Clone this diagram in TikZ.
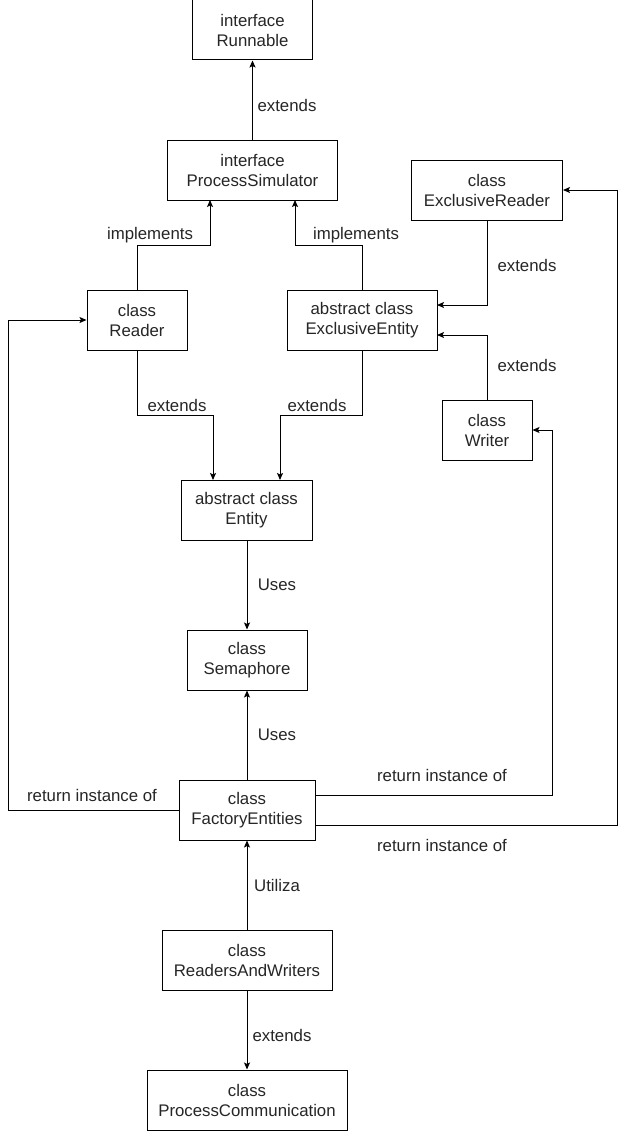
\documentclass[tikz,border=0pt]{standalone}
\usepackage{fontspec}
\setmainfont{Liberation Sans}
\usetikzlibrary{arrows.meta}
\begin{document}
\begin{tikzpicture}[x=1pt,y=-1pt,
  box/.style={draw,line width=1pt,align=center,inner sep=0pt,
    font=\fontsize{16.8}{20}\selectfont,text=black!85},
  lbl/.style={font=\fontsize{16.8}{20}\selectfont,text=black!85,inner sep=0pt},
  link/.style={line width=1pt,-{Stealth[length=7pt,width=6pt,inset=1.5pt]}}]
\useasboundingbox[fill=white] (0,0) rectangle (626,1132);

% classes and interfaces
\node[box,minimum width=120pt,minimum height=60pt] (run) at (252.5,30) {interface\\Runnable};
\node[box,minimum width=170pt,minimum height=60pt] (ps) at (252.5,170) {interface\\ProcessSimulator};
\node[box,minimum width=151pt,minimum height=60pt] (er) at (487,190) {class\\ExclusiveReader};
\node[box,minimum width=100pt,minimum height=60pt] (rd) at (137,320) {class\\Reader};
\node[box,minimum width=150pt,minimum height=60pt] (ee) at (362,320) {abstract class\\ExclusiveEntity};
\node[box,minimum width=90pt,minimum height=60pt] (wr) at (487,430) {class\\Writer};
\node[box,minimum width=131pt,minimum height=60pt] (en) at (246.5,510) {abstract class\\Entity};
\node[box,minimum width=120pt,minimum height=60pt] (sem) at (247,660) {class\\Semaphore};
\node[box,minimum width=136pt,minimum height=60pt] (fac) at (247,810) {class\\FactoryEntities};
\node[box,minimum width=170pt,minimum height=60pt] (rw) at (247,960) {class\\ReadersAndWriters};
\node[box,minimum width=200pt,minimum height=60pt] (pc) at (247,1100) {class\\ProcessCommunication};

% inheritance and usage
\draw[link] (ps.north -| run.south) -- (run.south);
\draw[link] (rd.north) |- (210,245) -- (210,200);
\draw[link] (ee.north) |- (295,245) -- (295,200);
\draw[link] (er.south) |- (437,305);
\draw[link] (wr.north) |- (437,335);
\draw[link] (rd.south) |- (213,415) -- (213,480);
\draw[link] (ee.south) |- (280,415) -- (280,480);
\draw[link] (sem.north |- en.south) -- (sem.north);
\draw[link] (fac.north) -- (sem.south);
\draw[link] (rw.north) -- (fac.south);
\draw[link] (rw.south) -- (pc.north);

% factory products
\draw[link] (fac.west) -- (8,810) |- (rd.west);
\draw[link] (315,795) -- (552,795) |- (wr.east);
\draw[link] (315,825) -- (617,825) |- (er.east);

% connector labels
\node[lbl] (l1) at (287,105) {extends};
\node[lbl] (l2) at (150,235) {implements};
\node[lbl] (l3) at (356,235) {implements};
\node[lbl] (l4) at (527,265) {extends};
\node[lbl] (l5) at (527,365) {extends};
\node[lbl] (l6) at (177,405) {extends};
\node[lbl] (l7) at (317,405) {extends};
\node[lbl] (l8) at (277,585) {Uses};
\node[lbl] (l9) at (277,735) {Uses};
\node[lbl] (l10) at (92,795) {return instance of};
\node[lbl] (l11) at (442,775) {return instance of};
\node[lbl] (l12) at (442,845) {return instance of};
\node[lbl] (l13) at (277,885) {Utiliza};
\node[lbl] (l14) at (282,1035) {extends};
\end{tikzpicture}
\end{document}
